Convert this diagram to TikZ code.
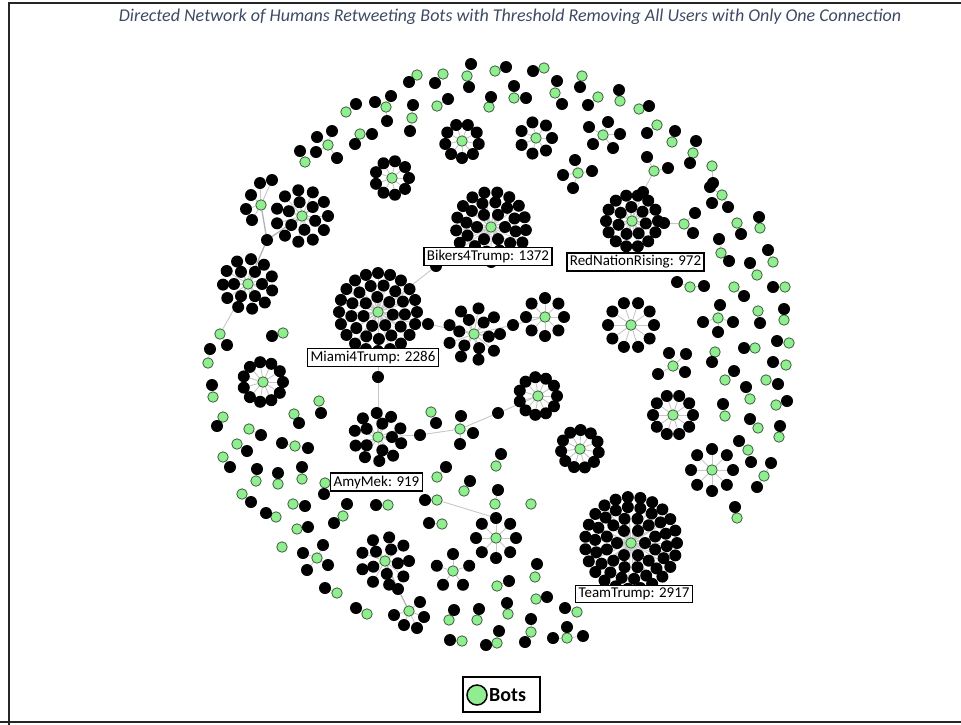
\documentclass[tikz,border=0pt]{standalone}
\usepackage{fontspec}
\setmainfont{Carlito}
\pgfdeclarelayer{bg}
\pgfsetlayers{bg,main}
\definecolor{botgreen}{RGB}{144,238,144}
\definecolor{botline}{RGB}{60,95,60}
\definecolor{titleblue}{RGB}{60,75,98}
\tikzset{
  hum/.style={circle,fill=black,inner sep=0pt,minimum size=12pt},
  bot/.style={circle,fill=botgreen,draw=botline,line width=0.8pt,inner sep=0pt,minimum size=10.5pt},
  edge/.style={draw=black!22,line width=0.9pt},
  link/.style={draw=black!30,line width=1.3pt},
  lbl/.style={draw=black,line width=1.3pt,fill=white,inner xsep=3pt,inner ysep=2.5pt,font=\fontsize{15}{17}\selectfont},
  frame/.style={draw=black!85,line width=2pt}
}
\newcommand\starcl[4]{%
  \node[bot] (#1) at (#2,#3) {};
  \foreach \r/\n/\o [count=\k] in {#4} {%
    \foreach \i in {1,...,\n} {%
      \node[hum] (#1-\k-\i) at ({#2+\r*cos(\o+360*\i/\n)},{#3+\r*sin(\o+360*\i/\n)}) {};
    }%
  }%
}
\newcommand\staredges[2]{%
  \foreach \r/\n/\o [count=\k] in {#2} {%
    \foreach \i in {1,...,\n} {\draw[edge] (#1) -- (#1-\k-\i);}%
  }%
}
\newcommand\gnode[4]{%
  \node[bot] (#1) at (#2,#3) {};
  \foreach \bx/\by [count=\i] in {#4} {\node[hum] (#1-\i) at (\bx,\by) {};}%
}
\newcommand\gedges[2]{\foreach \i in {1,...,#2} {\draw[edge] (#1) -- (#1-\i);}}
\def\pairlist{%
417/75/409/82, 443/74/435/83, 495/71/506/67, 544/68/533/71, 582/76/580/87,
489/107/491/97, 437/106/448/99, 346/112/356/104, 598/97/588/105, 620/101/619/90,
639/109/649/106, 657/125/647/133, 672/142/675/131, 305/162/300/151,
712/166/713/183, 760/228/759/217, 737/223/741/234, 773/262/768/250, 757/275/750/263,
785/287/773/287, 734/287/744/296, 758/311/760/323, 784/320/784/309, 715/352/712/362,
755/348/744/348, 789/343/777/341, 786/365/773/362, 725/380/734/371, 766/380/778/384,
750/399/746/387, 725/416/723/404, 776/405/787/401, 758/428/750/419, 779/437/780/426,
737/518/735/507, 208/363/210/349, 283/333/272/336, 213/397/212/385, 319/401/321/413,
294/414/299/423, 223/417/217/426, 249/429/261/435, 237/444/247/451, 223/457/230/467,
256/481/257/469, 278/484/278/473, 302/479/302/467, 242/494/251/502, 293/504/305/506,
276/517/266/513, 325/483/324/494, 388/505/376/505, 437/500/425/500,
495/504/498/490, 464/491/470/481, 437/477/446/467, 496/466/501/454, 431/412/436/423,
297/529/308/527, 442/524/429/523, 337/593/325/588, 367/614/356/608, 497/586/509/581,
535/577/537/564, 536/599/547/597, 449/620/454/610, 477/620/479/609, 508/614/507/603,
462/641/450/640, 577/612/565/608}
\begin{document}
\begin{tikzpicture}[x=1pt,y=-1pt]
\useasboundingbox (0,0) rectangle (961,724);
% frame
\coordinate (fa) at (9,740);
\coordinate (fb) at (9,2.5);
\coordinate (fc) at (980,2.5);
\coordinate (fd) at (-5,722);
\coordinate (fe) at (980,722);
\draw[frame] (fa) -- (fb) -- (fc);
\draw[frame] (fd) -- (fe);
% title
\node[font=\fontsize{18}{21}\selectfont\itshape,text=titleblue] (title) at (510,17) {Directed Network of Humans Retweeting Bots with Threshold Removing All Users with Only One Connection};

% clusters
\starcl{miami}{378}{312}{15/7/10,27/13/5,39/20/0}
\starcl{bikers}{491}{227}{14/6/0,25/12/10,35/17/5}
\starcl{team}{631}{543}{14/6/0,25/12/15,36/18/5,46/23/0}
\starcl{rnr}{632}{221}{14/7/10,26/14/0}
\starcl{sa}{302}{216}{14/6/20,26/11/0}
\gnode{sb}{261}{205}{260/183,272/180,251/195,246/209,252/220}
\starcl{sc}{248}{284}{14/6/0,25/11/15}
\starcl{sd}{263}{382}{20/11/0}
\starcl{amy}{378}{437}{14/5/0,24/10/15}
\starcl{se}{474}{334}{15/6/10,26/9/0}
\starcl{sf}{545}{317}{19/8/0}
\starcl{sg}{538}{396}{19/11/0}
\starcl{sh}{580}{449}{19/11/10}
\starcl{si}{631}{325}{23/10/0}
\starcl{sj}{673}{415}{20/10/0}
\starcl{sk}{712}{470}{21/8/0}
\starcl{sl}{385}{561}{13/5/10,24/9/0}
\starcl{sm}{496}{538}{20/8/-90}
\starcl{sn}{453}{571}{17/5/-90}
\gnode{so}{409}{611}{420/602,394/615,424/617,404/625,417/628}
\starcl{sp}{392}{178}{17/9/0}
\starcl{sq}{462}{141}{17/9/10}
\starcl{sr}{536}{138}{16/7/0}
\gnode{ss}{603}{135}{589/127,608/122,620/134,593/144,613/148}
\gnode{ta}{718}{318}{720/305,703/322,733/322,718/332}
\gnode{tb}{673}{366}{669/353,686/354,658/374,685/372}
\gnode{tc}{684}{224}{695/213,693/233}
\gnode{td}{722}{195}{710/187,712/203,728/207}
\gnode{te}{690}{287}{677/282,704/286}
\gnode{tf}{460}{429}{461/416,473/433,460/444}
\gnode{tg}{721}{253}{719/239,729/261}
\gnode{th}{295}{446}{282/443,308/448}
\gnode{ti}{748}{450}{739/441,751/462}
\gnode{tj}{764}{476}{771/463,757/487}
\gnode{tk}{220}{334}{227/345}
\gnode{tl}{654}{171}{647/157,668/168}
\gnode{tm}{578}{173}{575/160,563/175,592/171,573/188}
\gnode{tn}{467}{76}{471/64,469/87}
\gnode{to}{555}{93}{557/81,562/104}
\gnode{tp}{514}{98}{514/86,526/98}
\gnode{tq}{412}{118}{413/105,410/131}
\gnode{tr}{386}{107}{391/96,375/102,387/121}
\gnode{tt}{360}{134}{372/134,355/144}
\gnode{tu}{328}{145}{317/137,332/131,316/152,337/158}
\gnode{tv}{693}{153}{696/141,690/163}
\gnode{tw}{343}{516}{347/504,334/523}
\gnode{tx}{317}{558}{323/545,303/553,328/565,307/570}
\gnode{ty}{531}{632}{531/619,525/642}
\gnode{tz}{497}{643}{499/631,486/645}
\gnode{ua}{567}{638}{567/627,553/638,583/636}
\node[bot] (ub) at (531,504) {};
\node[bot] (uc) at (282,547) {};

% connector humans
\node[hum] (h1) at (428,324) {};
\node[hum] (h2) at (513,325) {};
\node[hum] (h3) at (436,266) {};
\node[hum] (h4) at (378,377) {};
\node[hum] (h5) at (420,435) {};
\node[hum] (h6) at (498,413) {};
\node[hum] (h7) at (267,240) {};
\node[hum] (h8) at (664,223) {};
\node[hum] (h9) at (643,192) {};
\node[hum] (h10) at (398,589) {};

% pairs
\foreach \gx/\gy/\bx/\by [count=\i] in \pairlist {
  \node[bot] (pg\i) at (\gx,\gy) {};
  \node[hum] (pb\i) at (\bx,\by) {};
}

% all edges behind the nodes
\begin{pgfonlayer}{bg}
\staredges{miami}{15/7/10,27/13/5,39/20/0}
\staredges{bikers}{14/6/0,25/12/10,35/17/5}
\staredges{team}{14/6/0,25/12/15,36/18/5,46/23/0}
\staredges{rnr}{14/7/10,26/14/0}
\staredges{sa}{14/6/20,26/11/0}
\staredges{sc}{14/6/0,25/11/15}
\staredges{sd}{20/11/0}
\staredges{amy}{14/5/0,24/10/15}
\staredges{se}{15/6/10,26/9/0}
\staredges{sf}{19/8/0}
\staredges{sg}{19/11/0}
\staredges{sh}{19/11/10}
\staredges{si}{23/10/0}
\staredges{sj}{20/10/0}
\staredges{sk}{21/8/0}
\staredges{sl}{13/5/10,24/9/0}
\staredges{sm}{20/8/-90}
\staredges{sn}{17/5/-90}
\staredges{sp}{17/9/0}
\staredges{sq}{17/9/10}
\staredges{sr}{16/7/0}
\gedges{sb}{5}\gedges{ss}{5}\gedges{ta}{4}\gedges{tb}{4}\gedges{tc}{2}
\gedges{td}{3}\gedges{te}{2}\gedges{tf}{3}\gedges{tg}{2}\gedges{th}{2}
\gedges{ti}{2}\gedges{tj}{2}\gedges{tk}{1}\gedges{tl}{2}\gedges{tm}{4}
\gedges{tn}{2}\gedges{to}{2}\gedges{tp}{2}\gedges{tq}{2}\gedges{tr}{3}
\gedges{tt}{2}\gedges{tu}{4}\gedges{tv}{2}\gedges{so}{5}\gedges{tw}{2}
\gedges{tx}{4}\gedges{ty}{2}\gedges{tz}{2}\gedges{ua}{3}
\foreach \gx/\gy/\bx/\by [count=\i] in \pairlist {\draw[edge] (pg\i) -- (pb\i);}
\draw[edge] (miami) -- (h1) -- (se) -- (h2) -- (sf);
\draw[edge] (miami) -- (h3) -- (bikers);
\draw[edge] (miami) -- (h4) -- (amy);
\draw[edge] (amy) -- (h5) -- (tf) -- (h6) -- (sg);
\draw[link] (sa) -- (h7) -- (sb);
\draw[link] (h7) -- (sc);
\draw[edge] (sc) -- (tk);
\draw[edge] (rnr) -- (h8) -- (tc);
\draw[edge] (rnr) -- (h9) -- (tl);
\draw[link] (sl) -- (h10) -- (so);
\draw[edge] (pg53) -- (sm-1-8);
\end{pgfonlayer}

% labels
\node[lbl] (lbikers) at (488,256.5) {Bikers4Trump: 1372};
\node[lbl] (lmiami) at (373,357.5) {Miami4Trump: 2286};
\node[lbl] (lrnr) at (635.5,262) {RedNationRising: 972};
\node[lbl] (lamy) at (376.5,482) {AmyMek: 919};
\node[lbl] (lteam) at (634,594) {TeamTrump: 2917};

% legend
\node[draw=black,line width=2pt,minimum width=77pt,minimum height=35pt] (legend) at (501.5,694.5) {};
\node[circle,fill=botgreen,draw=black,line width=1.5pt,minimum size=20pt,inner sep=0pt] (legbot) at (477,695) {};
\node[font=\fontsize{20}{22}\selectfont\bfseries,anchor=west,inner sep=0pt] (legtext) at (489,695) {Bots};
\end{tikzpicture}
\end{document}
